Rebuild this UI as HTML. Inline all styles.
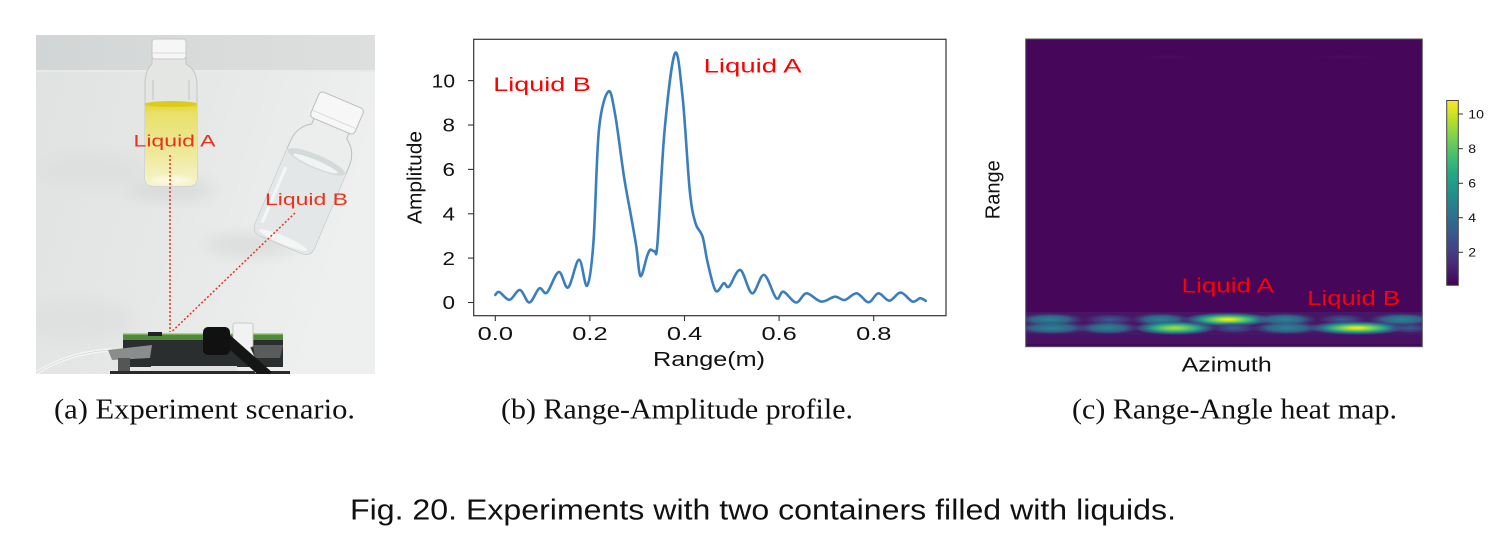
<!DOCTYPE html>
<html>
<head>
<meta charset="utf-8">
<style>
html,body{margin:0;padding:0;background:#fff;}
svg{display:block;}
</style>
</head>
<body>
<svg width="1510" height="547" viewBox="0 0 1510 547" xmlns="http://www.w3.org/2000/svg">
<defs>
  <clipPath id="photoClip"><rect x="36" y="35" width="339" height="339"/></clipPath>
  <clipPath id="heatClip"><rect x="1026" y="39" width="396" height="308"/></clipPath>
  <linearGradient id="table" x1="0" y1="0" x2="1" y2="0.3">
    <stop offset="0" stop-color="#e0e2e2"/>
    <stop offset="0.5" stop-color="#e6e8e8"/>
    <stop offset="1" stop-color="#eeefef"/>
  </linearGradient>
  <linearGradient id="wall" x1="0" y1="0" x2="1" y2="0">
    <stop offset="0" stop-color="#d2d5d5"/>
    <stop offset="0.5" stop-color="#d9dbdb"/>
    <stop offset="1" stop-color="#dddfdf"/>
  </linearGradient>
  <linearGradient id="yel" x1="0" y1="0" x2="0" y2="1">
    <stop offset="0" stop-color="#e2d42a"/>
    <stop offset="0.12" stop-color="#e9e06a"/>
    <stop offset="0.6" stop-color="#eee99a"/>
    <stop offset="1" stop-color="#f6f4d0"/>
  </linearGradient>
  <filter id="blur6" x="-50%" y="-50%" width="200%" height="200%"><feGaussianBlur stdDeviation="8"/></filter>
  <filter id="blur2" x="-50%" y="-50%" width="200%" height="200%"><feGaussianBlur stdDeviation="1.5"/></filter>
  <linearGradient id="viridis" x1="0" y1="1" x2="0" y2="0">
    <stop offset="0" stop-color="#440154"/>
    <stop offset="0.1" stop-color="#482475"/>
    <stop offset="0.2" stop-color="#414487"/>
    <stop offset="0.3" stop-color="#355f8d"/>
    <stop offset="0.4" stop-color="#2a788e"/>
    <stop offset="0.5" stop-color="#21918c"/>
    <stop offset="0.6" stop-color="#22a884"/>
    <stop offset="0.7" stop-color="#44bf70"/>
    <stop offset="0.8" stop-color="#7ad151"/>
    <stop offset="0.9" stop-color="#bddf26"/>
    <stop offset="1" stop-color="#fde725"/>
  </linearGradient>
  <radialGradient id="gY">
    <stop offset="0" stop-color="#fde725"/>
    <stop offset="0.15" stop-color="#d6e21a"/>
    <stop offset="0.35" stop-color="#6acd5b"/>
    <stop offset="0.6" stop-color="#22978a"/>
    <stop offset="0.85" stop-color="#31688e" stop-opacity="0.6"/>
    <stop offset="1" stop-color="#3b528b" stop-opacity="0"/>
  </radialGradient>
  <radialGradient id="gG">
    <stop offset="0" stop-color="#b8de29"/>
    <stop offset="0.25" stop-color="#6ccd5a"/>
    <stop offset="0.55" stop-color="#25a186"/>
    <stop offset="0.85" stop-color="#2f6b8e" stop-opacity="0.6"/>
    <stop offset="1" stop-color="#3b528b" stop-opacity="0"/>
  </radialGradient>
  <radialGradient id="gT">
    <stop offset="0" stop-color="#24878e"/>
    <stop offset="0.55" stop-color="#2d718e" stop-opacity="0.85"/>
    <stop offset="1" stop-color="#3b528b" stop-opacity="0"/>
  </radialGradient>
  <radialGradient id="gD">
    <stop offset="0" stop-color="#34608d"/>
    <stop offset="0.6" stop-color="#3e4c89" stop-opacity="0.6"/>
    <stop offset="1" stop-color="#433e85" stop-opacity="0"/>
  </radialGradient>
  <radialGradient id="gF">
    <stop offset="0" stop-color="#4a1c6c" stop-opacity="0.5"/>
    <stop offset="1" stop-color="#46075a" stop-opacity="0"/>
  </radialGradient>
</defs>

<!-- ============ (a) Photo ============ -->
<g clip-path="url(#photoClip)">
  <rect x="36" y="35" width="339" height="339" fill="url(#table)"/>
  <rect x="36" y="35" width="339" height="36" fill="url(#wall)"/>
  <rect x="36" y="70" width="339" height="2" fill="#e8eaea"/>
  <!-- soft shadows -->
  <ellipse cx="170" cy="190" rx="45" ry="9" fill="#d3d5d5" filter="url(#blur6)" opacity="0.8"/>
  <ellipse cx="95" cy="170" rx="55" ry="18" fill="#dcdede" filter="url(#blur6)" opacity="0.7"/>
  <ellipse cx="250" cy="245" rx="45" ry="10" fill="#d6d8d8" filter="url(#blur6)" opacity="0.8"/>
  <ellipse cx="80" cy="320" rx="55" ry="22" fill="#dcdede" filter="url(#blur6)" opacity="0.6"/>
  <!-- Bottle A -->
  <path d="M152,58 L186,58 L186,64 Q197,70 197,85 L197,178 Q197,186 188,186 L154,186 Q145,186 145,178 L145,85 Q145,70 152,64 Z" fill="#e4e6e4" stroke="#c3c7c5" stroke-width="1"/>
  <line x1="153" y1="80" x2="153" y2="100" stroke="#d2d5d3" stroke-width="2"/>
  <line x1="189" y1="80" x2="189" y2="100" stroke="#d2d5d3" stroke-width="2"/>
  <path d="M145,103 L197,103 L197,178 Q197,186 188,186 L154,186 Q145,186 145,178 Z" fill="url(#yel)"/>
  <ellipse cx="171" cy="104" rx="26" ry="3" fill="#dccb1c"/>
  <ellipse cx="171" cy="180" rx="20" ry="4" fill="#fbf8de" filter="url(#blur2)"/>
  <rect x="152" y="39" width="34" height="20" rx="3" fill="#f6f6f6" stroke="#c6c6c6" stroke-width="1"/>
  <line x1="152" y1="53" x2="186" y2="53" stroke="#dadada" stroke-width="1"/>
  <!-- Bottle B -->
  <g transform="translate(337,113) rotate(23)">
    <path d="M-19,13 L19,13 L19,20 Q32,28 32,45 L32,133 Q32,143 22,143 L-22,143 Q-32,143 -32,133 L-32,45 Q-32,28 -19,20 Z" fill="#eceeee" stroke="#babebe" stroke-width="1"/>
    <path d="M-32,52 L32,52 L32,133 Q32,143 22,143 L-22,143 Q-32,143 -32,133 Z" fill="#e3e7e8"/>
    <ellipse cx="0" cy="53" rx="31" ry="7" fill="#d4d9da"/>
    <ellipse cx="0" cy="55" rx="24" ry="3.5" fill="#f2f4f4"/>
    <line x1="-26" y1="70" x2="-26" y2="130" stroke="#f5f7f7" stroke-width="3"/>
    <ellipse cx="0" cy="138" rx="26" ry="4" fill="#f4f6f6"/>
    <rect x="-24" y="-14" width="48" height="28" rx="4" fill="#f7f7f7" stroke="#bcbcbc" stroke-width="1"/>
    <line x1="-24" y1="7" x2="24" y2="7" stroke="#dcdcdc" stroke-width="1"/>
  </g>
  <!-- dotted lines -->
  <line x1="170" y1="155" x2="170" y2="332" stroke="#e8321e" stroke-width="1.5" stroke-dasharray="2 2"/>
  <line x1="295" y1="213" x2="171.5" y2="332" stroke="#e8321e" stroke-width="1.5" stroke-dasharray="2 2"/>
  <!-- labels -->
  <text x="133.5" y="146.5" font-family="Liberation Sans, sans-serif" font-size="16.5" fill="#e8321e" textLength="82" lengthAdjust="spacingAndGlyphs">Liquid A</text>
  <text x="265" y="205" font-family="Liberation Sans, sans-serif" font-size="16.5" fill="#e8321e" textLength="83" lengthAdjust="spacingAndGlyphs">Liquid B</text>
  <!-- board -->
  <path d="M36,373 Q70,352 112,350" stroke="#f4f4f4" stroke-width="3.5" fill="none"/>
  <path d="M36,373 Q70,352 112,350" stroke="#c8c8c8" stroke-width="0.6" fill="none"/>
  <rect x="123" y="334.5" width="160" height="5.5" fill="#4d8a3a"/>
  <rect x="123" y="333.5" width="160" height="1.5" fill="#7fae5a"/>
  <rect x="148" y="332" width="14" height="4" fill="#222"/>
  <rect x="123" y="340" width="160" height="27" fill="#2b2e2e"/>
  <polygon points="108,350 152,345 150,358 112,360" fill="#8b8d8d"/>
  <polygon points="253,345 283,345 280,358 255,358" fill="#5a5c5c"/>
  <rect x="118" y="358" width="12" height="16" fill="#555"/>
  <rect x="151" y="366" width="86" height="8" fill="#e0e0e0"/>
  <rect x="110" y="371" width="180" height="4" fill="#2a2a2a"/>
  <rect x="233" y="323" width="20" height="24" rx="2" fill="#f2f2f2" stroke="#bdbdbd" stroke-width="0.8"/>
  <line x1="246" y1="345" x2="258" y2="372" stroke="#f2f2f2" stroke-width="6"/>
  <path d="M225,338 L268,376" stroke="#151515" stroke-width="11" fill="none"/>
  <rect x="203" y="327" width="27" height="28" rx="5" fill="#111"/>
</g>

<!-- ============ (b) Range-Amplitude plot ============ -->
<rect x="473.7" y="39.3" width="472.3" height="276.4" fill="none" stroke="#333" stroke-width="1.2"/>
<g stroke="#333" stroke-width="1.1">
  <line x1="468" y1="302.5" x2="473.7" y2="302.5"/>
  <line x1="468" y1="258.1" x2="473.7" y2="258.1"/>
  <line x1="468" y1="213.8" x2="473.7" y2="213.8"/>
  <line x1="468" y1="169.4" x2="473.7" y2="169.4"/>
  <line x1="468" y1="125.0" x2="473.7" y2="125.0"/>
  <line x1="468" y1="80.6" x2="473.7" y2="80.6"/>
  <line x1="495.3" y1="315.7" x2="495.3" y2="321"/>
  <line x1="589.9" y1="315.7" x2="589.9" y2="321"/>
  <line x1="684.5" y1="315.7" x2="684.5" y2="321"/>
  <line x1="779.1" y1="315.7" x2="779.1" y2="321"/>
  <line x1="873.7" y1="315.7" x2="873.7" y2="321"/>
</g>
<g font-family="Liberation Sans, sans-serif" font-size="18.5" fill="#111">
  <text x="442.5" y="309.2" textLength="12.5" lengthAdjust="spacingAndGlyphs">0</text>
  <text x="442.5" y="264.8" textLength="12.5" lengthAdjust="spacingAndGlyphs">2</text>
  <text x="442.5" y="220.5" textLength="12.5" lengthAdjust="spacingAndGlyphs">4</text>
  <text x="442.5" y="176.1" textLength="12.5" lengthAdjust="spacingAndGlyphs">6</text>
  <text x="442.5" y="131.7" textLength="12.5" lengthAdjust="spacingAndGlyphs">8</text>
  <text x="431.7" y="87.3" textLength="23.3" lengthAdjust="spacingAndGlyphs">10</text>
  <text x="477.7" y="340" textLength="35.3" lengthAdjust="spacingAndGlyphs">0.0</text>
  <text x="572.3" y="340" textLength="35.3" lengthAdjust="spacingAndGlyphs">0.2</text>
  <text x="666.9" y="340" textLength="35.3" lengthAdjust="spacingAndGlyphs">0.4</text>
  <text x="761.5" y="340" textLength="35.3" lengthAdjust="spacingAndGlyphs">0.6</text>
  <text x="856.1" y="340" textLength="35.3" lengthAdjust="spacingAndGlyphs">0.8</text>
  <text x="653" y="366" font-size="20" textLength="112" lengthAdjust="spacingAndGlyphs">Range(m)</text>
  <text transform="translate(421.5,177.5) rotate(-90)" x="-46.5" y="0" font-size="20.5" textLength="93" lengthAdjust="spacingAndGlyphs">Amplitude</text>
</g>
<path id="curve" fill="none" stroke="#3a7ebf" stroke-width="2.6" stroke-linejoin="round" stroke-linecap="round"
 d="M495.3,294.9 L499.3,292.0 L509.5,299.8 L519.9,290.0 L529.4,302.5 L539.3,288.4 L546.9,292.6 L558.7,272.0 L568.1,287.5 L579.0,259.7 L587.1,285.7 L593.4,242.9 L598.9,130.3 L608.3,91.5 L615.0,113.7 L624.0,176.7 L631.1,216.4 L636.3,246.4 L640.5,276.0 L647.1,256.1 L650.4,249.6 L654.7,251.2 L657.5,242.9 L664.6,130.3 L675.0,53.2 L682.6,97.1 L689.7,190.0 L695.4,222.9 L702.5,236.4 L707.7,262.8 L715.7,290.8 L723.8,283.2 L729.0,286.6 L740.3,270.0 L752.1,293.3 L764.0,274.9 L776.3,298.2 L783.4,291.7 L796.1,302.5 L806.5,293.3 L821.2,301.6 L834.9,296.7 L844.8,300.0 L856.7,293.3 L868.5,302.3 L878.4,293.3 L889.3,300.7 L900.7,292.6 L912.5,301.6 L920.1,298.2 L925.7,300.9"/>
<g font-family="Liberation Sans, sans-serif" font-size="19.5" fill="#ff0000">
  <text x="493.3" y="91" textLength="97.4" lengthAdjust="spacingAndGlyphs">Liquid B</text>
  <text x="703.6" y="72.5" textLength="98" lengthAdjust="spacingAndGlyphs">Liquid A</text>
</g>

<!-- ============ (c) Heat map ============ -->
<g clip-path="url(#heatClip)">
  <rect x="1026" y="39" width="396" height="308" fill="#46075a"/>
  <ellipse cx="1168" cy="57" rx="35" ry="3" fill="url(#gF)"/>
  <ellipse cx="1345" cy="57" rx="45" ry="3" fill="url(#gF)"/>
  <rect x="1026" y="312" width="396" height="23" fill="#47266f" opacity="0.5"/>
  <rect x="1026" y="335" width="396" height="9" fill="#48196a" opacity="0.6"/>
  <!-- upper band -->
  <ellipse cx="1050" cy="319.5" rx="34" ry="6.5" fill="url(#gT)"/>
  <ellipse cx="1110" cy="319.5" rx="26" ry="5.5" fill="url(#gD)"/>
  <ellipse cx="1161" cy="319.5" rx="30" ry="6.5" fill="url(#gT)"/>
  <ellipse cx="1228" cy="319.5" rx="46" ry="7" fill="url(#gY)"/>
  <ellipse cx="1285" cy="319.5" rx="32" ry="6.5" fill="url(#gT)"/>
  <ellipse cx="1342" cy="319.5" rx="24" ry="5.5" fill="url(#gD)"/>
  <ellipse cx="1402" cy="319.5" rx="34" ry="6.5" fill="url(#gT)"/>
  <!-- lower band -->
  <ellipse cx="1052" cy="328" rx="38" ry="6.5" fill="url(#gT)"/>
  <ellipse cx="1108" cy="328" rx="32" ry="6.5" fill="url(#gT)"/>
  <ellipse cx="1175" cy="328" rx="42" ry="7" fill="url(#gG)"/>
  <ellipse cx="1234" cy="328" rx="24" ry="5.5" fill="url(#gD)"/>
  <ellipse cx="1287" cy="328" rx="36" ry="6.5" fill="url(#gT)"/>
  <ellipse cx="1357" cy="328" rx="50" ry="7" fill="url(#gY)"/>
  <ellipse cx="1410" cy="328" rx="22" ry="5.5" fill="url(#gD)"/>
</g>
<rect x="1025.7" y="39" width="396.6" height="307.7" fill="none" stroke="#555" stroke-width="1"/>
<g font-family="Liberation Sans, sans-serif" font-size="20" fill="#ff0000">
  <text x="1181.7" y="292.7" textLength="92.3" lengthAdjust="spacingAndGlyphs">Liquid A</text>
  <text x="1307.3" y="305" textLength="92.7" lengthAdjust="spacingAndGlyphs">Liquid B</text>
</g>
<g font-family="Liberation Sans, sans-serif" font-size="20" fill="#111">
  <text x="1181.7" y="371.7" textLength="90" lengthAdjust="spacingAndGlyphs">Azimuth</text>
  <text transform="translate(999.5,189.7) rotate(-90)" x="-29.5" y="0" textLength="59" lengthAdjust="spacingAndGlyphs">Range</text>
</g>
<!-- colorbar -->
<rect x="1446.7" y="100.5" width="11.6" height="184.8" fill="url(#viridis)" stroke="#444" stroke-width="1"/>
<g stroke="#333" stroke-width="1">
  <line x1="1458.3" y1="114" x2="1463" y2="114"/>
  <line x1="1458.3" y1="148.7" x2="1463" y2="148.7"/>
  <line x1="1458.3" y1="183.3" x2="1463" y2="183.3"/>
  <line x1="1458.3" y1="217.7" x2="1463" y2="217.7"/>
  <line x1="1458.3" y1="252.3" x2="1463" y2="252.3"/>
</g>
<g font-family="Liberation Sans, sans-serif" font-size="12" fill="#111">
  <text x="1468.3" y="118.3" textLength="15.7" lengthAdjust="spacingAndGlyphs">10</text>
  <text x="1468.3" y="153" textLength="7.8" lengthAdjust="spacingAndGlyphs">8</text>
  <text x="1468.3" y="187.6" textLength="7.8" lengthAdjust="spacingAndGlyphs">6</text>
  <text x="1468.3" y="222" textLength="7.8" lengthAdjust="spacingAndGlyphs">4</text>
  <text x="1468.3" y="256.6" textLength="7.8" lengthAdjust="spacingAndGlyphs">2</text>
</g>

<!-- ============ captions ============ -->
<g font-family="Liberation Serif, serif" font-size="29" fill="#111">
  <text x="54" y="418.5" textLength="301" lengthAdjust="spacingAndGlyphs">(a)  Experiment scenario.</text>
  <text x="501" y="418.5" textLength="352" lengthAdjust="spacingAndGlyphs">(b)  Range-Amplitude profile.</text>
  <text x="1072" y="418.5" textLength="325" lengthAdjust="spacingAndGlyphs">(c)  Range-Angle heat map.</text>
</g>
<text x="350" y="519.5" font-family="Liberation Sans, sans-serif" font-size="29" fill="#111" textLength="826" lengthAdjust="spacingAndGlyphs">Fig. 20.  Experiments with two containers filled with liquids.</text>
</svg>
<script>
(function(){
  var el=document.getElementById('curve');
  var d=el.getAttribute('d');
  var nums=d.replace(/[ML]/g,' ').trim().split(/\s+/).map(function(s){var p=s.split(',');return [parseFloat(p[0]),parseFloat(p[1])];});
  var n=nums.length; var out='M'+nums[0][0]+','+nums[0][1];
  for(var i=0;i<n-1;i++){
    var p0=nums[i-1]||nums[i], p1=nums[i], p2=nums[i+1], p3=nums[i+2]||nums[i+1];
    var c1x=p1[0]+(p2[0]-p0[0])/6, c1y=p1[1]+(p2[1]-p0[1])/6;
    var c2x=p2[0]-(p3[0]-p1[0])/6, c2y=p2[1]-(p3[1]-p1[1])/6;
    out+=' C'+c1x.toFixed(2)+','+c1y.toFixed(2)+' '+c2x.toFixed(2)+','+c2y.toFixed(2)+' '+p2[0]+','+p2[1];
  }
  el.setAttribute('d',out);
})();
</script>
</body>
</html>
